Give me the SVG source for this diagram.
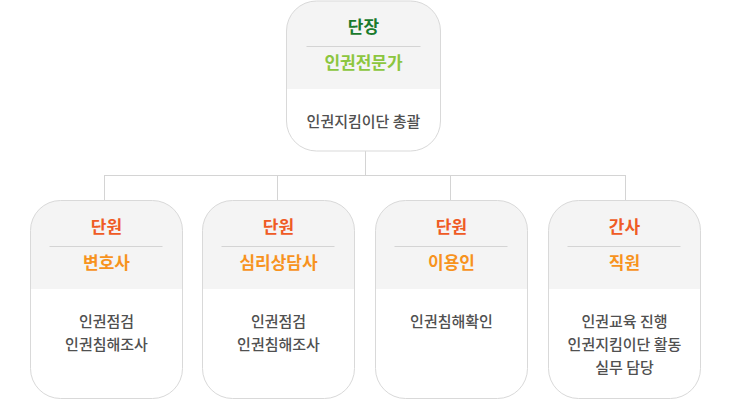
<svg xmlns="http://www.w3.org/2000/svg" width="730" height="400" viewBox="0 0 730 400">
<defs>
<style>
.box{fill:#ffffff;stroke:none}
.frame{fill:none;stroke:#d9d9d9;stroke-width:1}
.head{fill:#f4f4f4}
.div{stroke:#d4d4d4;stroke-width:1}
.conn{fill:none;stroke:#d4d4d4;stroke-width:1}
text{font-family:"Noto Sans CJK KR","Noto Sans",sans-serif;text-anchor:middle}
.t1{font-size:17px;font-weight:bold}
.t2{font-size:17px;font-weight:bold}
.body{font-size:15px;fill:#505050;font-weight:500}
.green1{fill:#1a7a2c}
.green2{fill:#8cc63f}
.red{fill:#ef5b25}
.orange{fill:#f7931e}
</style>
</defs>
<g id="connectors">
<path class="conn" d="M365.5,151 V175.5 M104.5,175.5 H625.5 M104.5,175 V200.5 M277.5,175 V200.5 M450.5,175 V200.5 M625.5,175 V200.5"/>
</g>
<g id="leader">
<rect class="box" x="286.5" y="1" width="154" height="150" rx="30"/>
<path class="head" d="M286.5,89 V31 A30,30 0 0 1 316.5,1 H410.5 A30,30 0 0 1 440.5,31 V89 Z"/>
<rect class="frame" x="286.5" y="1" width="154" height="150" rx="30"/>
<line class="div" x1="306.5" y1="46.5" x2="420.5" y2="46.5"/>
<text class="t1 green1" x="363.5" y="33">단장</text>
<text class="t2 green2" x="363.5" y="69">인권전문가</text>
<text class="body" x="363.5" y="126.5">인권지킴이단 총괄</text>
</g>
<g id="member1">
<rect class="box" x="30.5" y="200.5" width="152" height="198" rx="30"/>
<path class="head" d="M30.5,289 V230.5 A30,30 0 0 1 60.5,200.5 H152.5 A30,30 0 0 1 182.5,230.5 V289 Z"/>
<rect class="frame" x="30.5" y="200.5" width="152" height="198" rx="30"/>
<line class="div" x1="49.5" y1="246.5" x2="162.5" y2="246.5"/>
<text class="t1 red" x="106.5" y="232.5">단원</text>
<text class="t2 orange" x="106.5" y="268.5">변호사</text>
<text class="body" x="106.5" y="326.5">인권점검</text>
<text class="body" x="106.5" y="349.5">인권침해조사</text>
</g>
<g id="member2">
<rect class="box" x="202.5" y="200.5" width="152" height="198" rx="30"/>
<path class="head" d="M202.5,289 V230.5 A30,30 0 0 1 232.5,200.5 H324.5 A30,30 0 0 1 354.5,230.5 V289 Z"/>
<rect class="frame" x="202.5" y="200.5" width="152" height="198" rx="30"/>
<line class="div" x1="221.5" y1="246.5" x2="334.5" y2="246.5"/>
<text class="t1 red" x="278.5" y="232.5">단원</text>
<text class="t2 orange" x="278.5" y="268.5">심리상담사</text>
<text class="body" x="278.5" y="326.5">인권점검</text>
<text class="body" x="278.5" y="349.5">인권침해조사</text>
</g>
<g id="member3">
<rect class="box" x="375.5" y="200.5" width="152" height="198" rx="30"/>
<path class="head" d="M375.5,289 V230.5 A30,30 0 0 1 405.5,200.5 H497.5 A30,30 0 0 1 527.5,230.5 V289 Z"/>
<rect class="frame" x="375.5" y="200.5" width="152" height="198" rx="30"/>
<line class="div" x1="394.5" y1="246.5" x2="507.5" y2="246.5"/>
<text class="t1 red" x="451.5" y="232.5">단원</text>
<text class="t2 orange" x="451.5" y="268.5">이용인</text>
<text class="body" x="451.5" y="326.5">인권침해확인</text>
</g>
<g id="secretary">
<rect class="box" x="548.5" y="200.5" width="152" height="198" rx="30"/>
<path class="head" d="M548.5,289 V230.5 A30,30 0 0 1 578.5,200.5 H670.5 A30,30 0 0 1 700.5,230.5 V289 Z"/>
<rect class="frame" x="548.5" y="200.5" width="152" height="198" rx="30"/>
<line class="div" x1="567.5" y1="246.5" x2="680.5" y2="246.5"/>
<text class="t1 red" x="624.5" y="232.5">간사</text>
<text class="t2 orange" x="624.5" y="268.5">직원</text>
<text class="body" x="624.5" y="326.5">인권교육 진행</text>
<text class="body" x="624.5" y="349.5">인권지킴이단 활동</text>
<text class="body" x="624.5" y="372.5">실무 담당</text>
</g>
</svg>
